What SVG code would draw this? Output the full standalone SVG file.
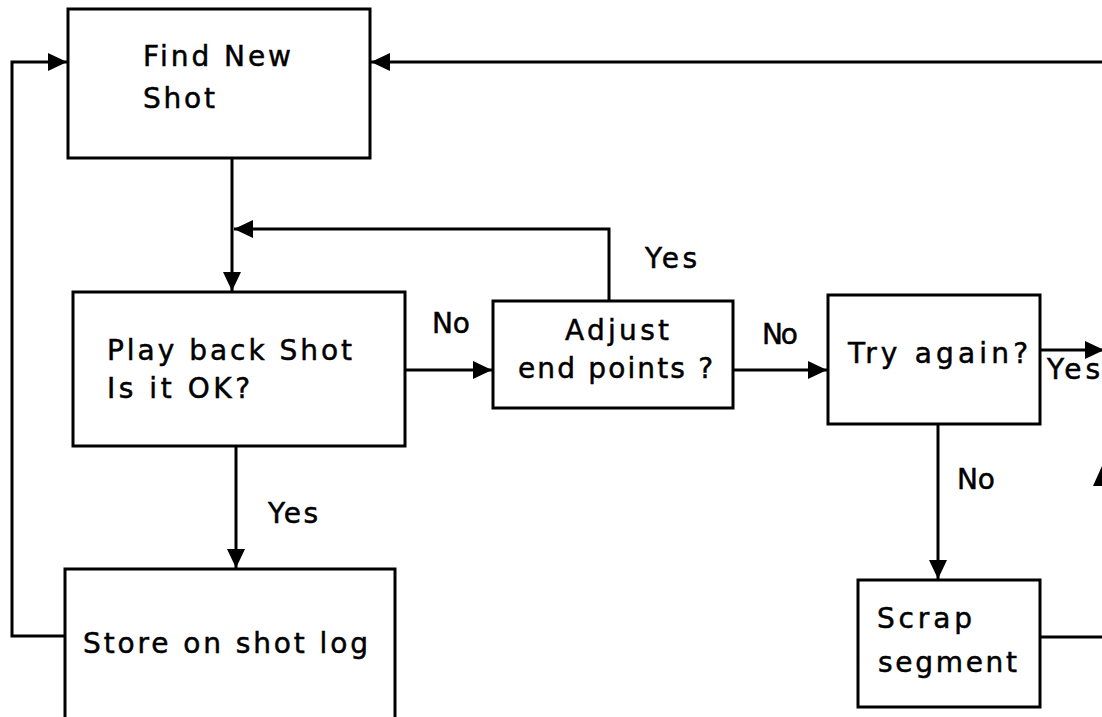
<svg xmlns="http://www.w3.org/2000/svg" width="1102" height="717" viewBox="0 0 1102 717">
<style>
.box{fill:#fff;stroke:#000;stroke-width:3}
.ln{fill:none;stroke:#000;stroke-width:3}
text{font-family:"DejaVu Sans",sans-serif;font-size:28px;fill:#000;stroke:#000;stroke-width:0.5}
</style>
<defs>
<marker id="ah" markerUnits="userSpaceOnUse" markerWidth="22" markerHeight="20" refX="19" refY="9" orient="auto">
<path d="M0,0 L19,9 L0,18 z" fill="#000"/>
</marker>
</defs>
<rect width="1102" height="717" fill="#fff"/>
<g id="connectors">
<path class="ln" d="M232,158 V291" marker-end="url(#ah)"/>
<path class="ln" d="M609,301 V229 H234" marker-end="url(#ah)"/>
<path class="ln" d="M405,370 H492" marker-end="url(#ah)"/>
<path class="ln" d="M733,370 H827" marker-end="url(#ah)"/>
<path class="ln" d="M1040,350 H1104" marker-end="url(#ah)"/>
<path class="ln" d="M938,424 V579" marker-end="url(#ah)"/>
<path class="ln" d="M1040,637 H1102"/>
<polygon points="1102,466 1093,486 1102,486" fill="#000"/>
<path class="ln" d="M1102,62 H371" marker-end="url(#ah)"/>
<path class="ln" d="M236,446 V568" marker-end="url(#ah)"/>
<path class="ln" d="M65,636 H12 V62 H67" marker-end="url(#ah)"/>
</g>
<g id="find">
<rect class="box" x="68" y="9" width="302" height="149"/>
<text x="143" y="66" textLength="148" lengthAdjust="spacing">Find New</text>
<text x="143" y="108" textLength="72" lengthAdjust="spacing">Shot</text>
</g>
<g id="play">
<rect class="box" x="73" y="292" width="332" height="154"/>
<text x="107" y="360" textLength="245" lengthAdjust="spacing">Play back Shot</text>
<text x="107" y="398" textLength="143" lengthAdjust="spacing">Is it OK?</text>
</g>
<g id="adjust">
<rect class="box" x="493" y="301" width="240" height="107"/>
<text x="565" y="340" textLength="104" lengthAdjust="spacing">Adjust</text>
<text x="518" y="378" textLength="195" lengthAdjust="spacing">end points ?</text>
</g>
<g id="try">
<rect class="box" x="828" y="295" width="212" height="129"/>
<text x="848" y="363" textLength="180" lengthAdjust="spacing">Try again?</text>
</g>
<g id="scrap">
<rect class="box" x="858" y="580" width="182" height="127"/>
<text x="877" y="628" textLength="95" lengthAdjust="spacing">Scrap</text>
<text x="878" y="672" textLength="139" lengthAdjust="spacing">segment</text>
</g>
<g id="store">
<rect class="box" x="65" y="569" width="330" height="152"/>
<text x="83" y="653" textLength="285" lengthAdjust="spacing">Store on shot log</text>
</g>
<g id="labels">
<text x="432" y="333" textLength="38" lengthAdjust="spacing">No</text>
<text x="645" y="268" textLength="52" lengthAdjust="spacing">Yes</text>
<text x="762" y="344" textLength="36" lengthAdjust="spacing">No</text>
<text x="1047" y="379" textLength="53" lengthAdjust="spacing">Yes</text>
<text x="957" y="489" textLength="38" lengthAdjust="spacing">No</text>
<text x="268" y="523" textLength="50" lengthAdjust="spacing">Yes</text>
</g>
</svg>
